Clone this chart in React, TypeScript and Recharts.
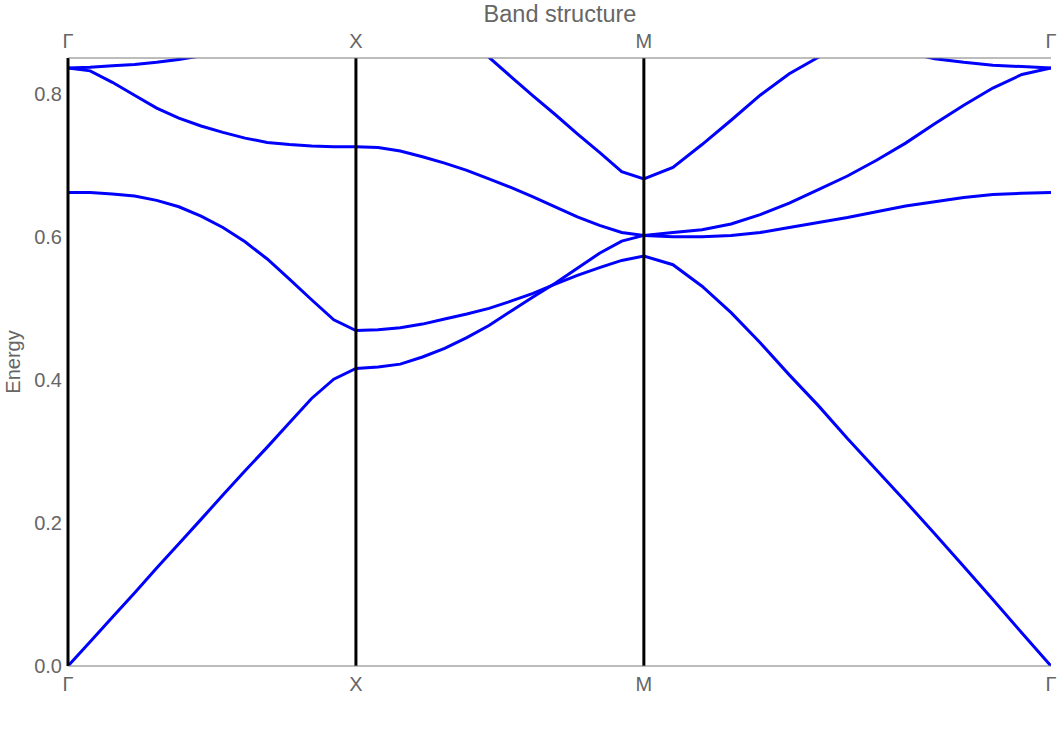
import React from 'react';
import { LineChart, Line, XAxis, YAxis, ReferenceLine } from 'recharts';

// Path coordinate along Γ → X → M → Γ (Γ-X = 1, X-M = 1, M-Γ = √2)
const kPath = [
  0, 0.077, 0.154, 0.231, 0.308, 0.385, 0.462, 0.538, 0.615, 0.692, 0.769, 0.846, 0.923, 1.0,
  1.077, 1.154, 1.231, 1.308, 1.385, 1.462, 1.538, 1.615, 1.692, 1.769, 1.846, 1.923, 2.0,
  2.101, 2.202, 2.303, 2.404, 2.505, 2.606, 2.707, 2.808, 2.909, 3.01, 3.111, 3.212, 3.313, 3.414,
];

const band1 = [
  0, 0.034, 0.068, 0.102, 0.137, 0.171, 0.205, 0.239, 0.273, 0.306, 0.34, 0.374, 0.401, 0.416,
  0.418, 0.422, 0.432, 0.444, 0.459, 0.476, 0.496, 0.516, 0.535, 0.556, 0.577, 0.594, 0.602,
  0.6, 0.6, 0.602, 0.606, 0.613, 0.62, 0.627, 0.635, 0.643, 0.649, 0.655, 0.659, 0.661, 0.662,
];

const band2 = [
  0.662, 0.662, 0.66, 0.657, 0.651, 0.642, 0.629, 0.613, 0.593, 0.569, 0.541, 0.512, 0.484, 0.469,
  0.47, 0.473, 0.478, 0.485, 0.492, 0.5, 0.51, 0.521, 0.534, 0.546, 0.557, 0.567, 0.573,
  0.561, 0.531, 0.494, 0.452, 0.407, 0.364, 0.318, 0.274, 0.23, 0.185, 0.139, 0.093, 0.046, 0,
];

const band3 = [
  0.836, 0.832, 0.816, 0.798, 0.78, 0.766, 0.755, 0.746, 0.738, 0.732, 0.729, 0.727, 0.726, 0.726,
  0.725, 0.72, 0.712, 0.703, 0.693, 0.681, 0.669, 0.656, 0.642, 0.628, 0.616, 0.606, 0.602,
  0.606, 0.61, 0.618, 0.631, 0.647, 0.666, 0.685, 0.707, 0.731, 0.758, 0.784, 0.808, 0.827, 0.836,
];

const band4 = [
  0.836, 0.837, 0.839, 0.841, 0.844, 0.848, 0.853, 0.858, null, null, null, null, null, null,
  null, null, null, null, null, null, null, null, null, null, null, null, null,
  null, null, null, null, null, null, null, null, null, null, null, null, null, null,
];

const band5 = [
  null, null, null, null, null, null, null, null, null, null, null, null, null, null,
  null, null, null, null, 0.878, 0.851, 0.824, 0.797, 0.771, 0.744, 0.718, 0.691, 0.681,
  0.697, 0.729, 0.763, 0.798, 0.828, 0.851, 0.87, null, null, null, null, null, null, null,
];

const band6 = [
  null, null, null, null, null, null, null, null, null, null, null, null, null, null,
  null, null, null, null, null, null, null, null, null, null, null, null, null,
  null, null, null, null, null, null, null, null, 0.858, 0.849, 0.844, 0.84, 0.838, 0.836,
];

const kTicks = [0, 1, 2, 3.414];
const kLabels = ['Γ', 'X', 'M', 'Γ'];
const energyTicks = [0, 0.2, 0.4, 0.6, 0.8];
const symmetryPoints = [0, 1, 2];

const bands = [band1, band2, band3, band4, band5, band6];

const data = kPath.map((k, i) => {
  const row: Record<string, number | null> = { k };
  bands.forEach((b, j) => {
    row['b' + j] = b[i];
  });
  return row;
});

const FONT = 'Liberation Sans, Arial, sans-serif';
const TEXT = '#666666';
const FRAME = '#7a7a7a';

const fmtK = (v: number) => {
  const idx = kTicks.findIndex((t) => Math.abs(t - v) < 1e-6);
  return idx >= 0 ? kLabels[idx] : '';
};

export default function App() {
  return (
    <div style={{ position: 'absolute', left: 0, top: 0, width: 1058, height: 732, background: '#fff' }}>
      <LineChart
        width={1058}
        height={732}
        data={data}
        margin={{ top: 28, right: 7, bottom: 40, left: 0 }}
      >
        <XAxis
          dataKey="k"
          type="number"
          domain={[0, 3.414]}
          allowDataOverflow
          ticks={kTicks}
          tickFormatter={fmtK}
          tickLine={false}
          tickSize={0}
          tickMargin={11}
          height={26}
          stroke={FRAME}
          tick={{ fill: TEXT, fontSize: 20, fontFamily: FONT }}
          interval={0}
        />
        <XAxis
          xAxisId="top"
          orientation="top"
          dataKey="k"
          type="number"
          domain={[0, 3.414]}
          allowDataOverflow
          ticks={kTicks}
          tickFormatter={fmtK}
          tickLine={false}
          tickSize={0}
          tickMargin={10}
          height={30}
          stroke={FRAME}
          tick={{ fill: TEXT, fontSize: 20, fontFamily: FONT }}
          interval={0}
        />
        <YAxis
          type="number"
          domain={[0, 0.85]}
          allowDataOverflow
          ticks={energyTicks}
          tickFormatter={(v: number) => v.toFixed(1)}
          tickLine={false}
          tickSize={0}
          tickMargin={6}
          width={68}
          axisLine={{ stroke: '#000000', strokeWidth: 1 }}
          tick={{ fill: TEXT, fontSize: 20, fontFamily: FONT }}
          interval={0}
        />
        <YAxis
          yAxisId="right"
          orientation="right"
          type="number"
          domain={[0, 0.85]}
          allowDataOverflow
          tick={false}
          tickLine={false}
          width={0}
          stroke={FRAME}
        />
        {bands.map((_, j) => (
          <Line
            key={j}
            dataKey={'b' + j}
            type="linear"
            stroke="#0000ff"
            strokeWidth={3}
            dot={false}
            activeDot={false}
            connectNulls={false}
            isAnimationActive={false}
          />
        ))}
        {symmetryPoints.map((x) => (
          <ReferenceLine key={x} x={x} stroke="#000000" strokeWidth={3} />
        ))}
      </LineChart>
      <svg
        width={1058}
        height={732}
        style={{ position: 'absolute', left: 0, top: 0, pointerEvents: 'none' }}
      >
        <text x={560} y={22} textAnchor="middle" fontSize={23.5} fill={TEXT} fontFamily={FONT}>
          Band structure
        </text>
        <text
          transform="translate(19.5,362) rotate(-90)"
          textAnchor="middle"
          fontSize={20}
          fill={TEXT}
          fontFamily={FONT}
        >
          Energy
        </text>
      </svg>
    </div>
  );
}
